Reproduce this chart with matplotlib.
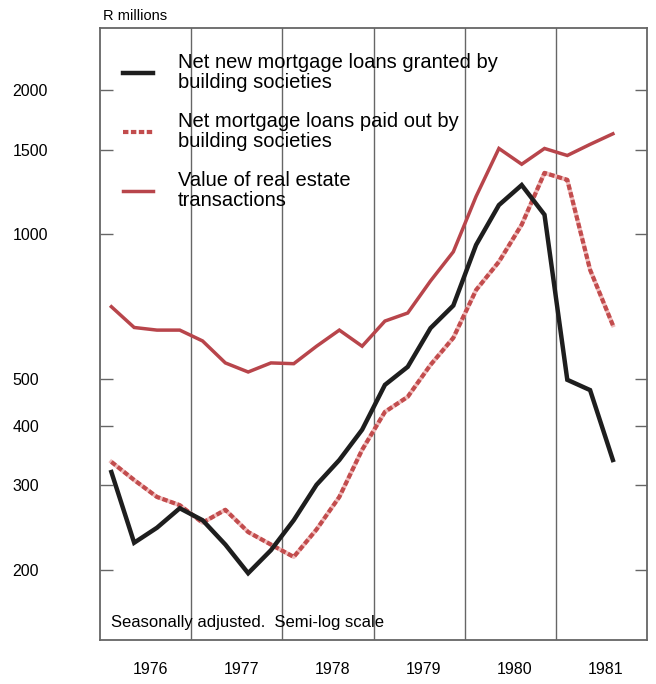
import matplotlib.pyplot as plt
import numpy as np
from matplotlib.ticker import FixedLocator, NullLocator

plt.rcParams['font.family'] = ['Liberation Sans', 'DejaVu Sans']

# quarterly series, 1976 Q1 to 1981 Q3 (R millions, seasonally adjusted)
quarters = np.arange(23)
loans_granted = [320, 228, 245, 269, 254, 226, 197, 220, 254, 301, 339, 392,
                 486, 530, 638, 711, 951, 1151, 1267, 1099, 498, 474, 339]
loans_paid = [336, 308, 284, 273, 251, 267, 240, 226, 213, 243, 284, 356,
              427, 459, 535, 609, 766, 877, 1048, 1343, 1299, 844, 647]
real_estate = [707, 640, 632, 632, 600, 540, 517, 540, 538, 585, 632, 585,
               660, 686, 800, 920, 1200, 1510, 1400, 1510, 1460, 1540, 1620]

years = [1976, 1977, 1978, 1979, 1980, 1981]
yticks = [200, 300, 400, 500, 1000, 1500, 2000]

# place each quarter at its mid-point on a time axis in years
t = 1976 + (quarters + 0.5) / 4

fig = plt.figure(figsize=(6.56, 6.84), dpi=100)
ax = fig.add_axes([0.1524, 0.0643, 0.834, 0.8947])

red = '#b8454b'
ax.plot(t, real_estate, color=red, lw=2.5, solid_joinstyle='miter',
        label='Value of real estate\ntransactions', zorder=3)
ax.plot(t, loans_paid, color='#f0bcbc', lw=3.0, zorder=3)
ax.plot(t, loans_paid, color='#c24c4d', lw=3.0, dashes=(1.3, 0.6),
        label='Net mortgage loans paid out by\nbuilding societies', zorder=4)
ax.plot(t, loans_granted, color='#1e1e1e', lw=3.2, solid_joinstyle='miter',
        label='Net new mortgage loans granted by\nbuilding societies', zorder=5)

ax.set_yscale('log')
ax.set_ylim(143, 2690)
ax.set_xlim(1976, 1982)

# year boundaries
for y in years[1:]:
    ax.axvline(y, color='#666666', lw=1.0, zorder=1)

ax.yaxis.set_major_locator(FixedLocator(yticks))
ax.yaxis.set_minor_locator(NullLocator())
ax.set_yticklabels([str(v) for v in yticks])
ax.tick_params(axis='y', which='major', direction='in', length=9, width=1.0,
               color='#666666', right=True, pad=63, labelsize=11.5)
for lab in ax.get_yticklabels():
    lab.set_horizontalalignment('left')

ax.set_xticks([y + 0.55 for y in years])
ax.set_xticklabels([str(y) for y in years])
ax.tick_params(axis='x', length=0, pad=16, labelsize=11.5)

for s in ax.spines.values():
    s.set_color('#666666')
    s.set_linewidth(1.3)

ax.text(0.005, 1.008, 'R millions', transform=ax.transAxes, fontsize=10.5,
        va='bottom', ha='left')
ax.text(0.02, 0.017, 'Seasonally adjusted.  Semi-log scale',
        transform=ax.transAxes, fontsize=12, va='bottom', ha='left')

handles, labels = ax.get_legend_handles_labels()
order = [2, 1, 0]
leg = ax.legend([handles[i] for i in order], [labels[i] for i in order],
                loc='upper left', bbox_to_anchor=(0.028, 0.972), frameon=False,
                fontsize=14.5, handlelength=1.45, handletextpad=1.25,
                labelspacing=1.0, borderaxespad=0)
for txt in leg.get_texts():
    txt.set_linespacing(1.05)

fig.savefig('out.png', dpi=100, facecolor='white')
